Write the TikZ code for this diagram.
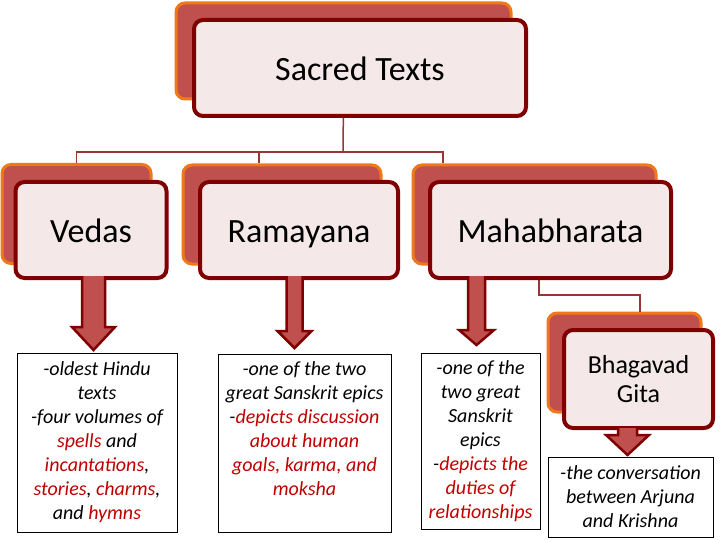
\documentclass[tikz,border=0pt]{standalone}
\usepackage{fontspec}
\setmainfont{Carlito}
\usetikzlibrary{positioning}

\definecolor{backfill}{HTML}{C0504D}
\definecolor{backline}{HTML}{F07818}
\definecolor{frontfill}{HTML}{F4E8E8}
\definecolor{frontline}{HTML}{7F0000}
\definecolor{linkcolor}{HTML}{953735}
\definecolor{notered}{HTML}{C00000}
\newcommand{\rd}[1]{\textcolor{notered}{#1}}

% block arrow: x, y top, y head, y tip, half shaft, half head
\newcommand{\blockarrow}[6]{%
\draw[downarrow] (#1-#5,#2)--(#1-#5,#3)--(#1-#6,#3)--(#1,#4)--(#1+#6,#3)--(#1+#5,#3)--(#1+#5,#2);
}

\tikzset{
  backbox/.style={draw=backline, fill=backfill, line width=3pt, rounded corners=9pt, inner sep=0pt},
  frontbox/.style={draw=frontline, fill=frontfill, line width=4pt, rounded corners=9pt,
    inner sep=0pt, align=center, font=\fontsize{34}{40}\selectfont},
  oneline/.style={text height=29pt, text depth=3pt},
  notebox/.style={draw=black, fill=white, line width=0.8pt, inner sep=0pt, align=center,
    font=\fontsize{20}{24}\selectfont\itshape},
  notetext/.style={inner sep=0pt, align=center, font=\fontsize{20}{24}\selectfont\itshape},
  link/.style={draw=linkcolor, line width=1.5pt},
  downarrow/.style={draw=frontline, fill=backfill, line width=2.5pt, line join=miter},
}

\begin{document}
\begin{tikzpicture}[x=1pt,y=-1pt]
\useasboundingbox (0,0) rectangle (720,540);

% back boxes
\node[backbox, minimum width=335pt, minimum height=96pt] (topback) at (343.5,51) {};
\node[backbox, minimum width=149pt, minimum height=99pt] (vedasback) at (76.5,214) {};
\node[backbox, minimum width=198pt, minimum height=99pt] (ramback) at (282,214.5) {};
\node[backbox, minimum width=243pt, minimum height=99pt] (mahaback) at (534.5,214.5) {};
\node[backbox, minimum width=153pt, minimum height=99pt] (gitaback) at (624.5,362.5) {};

% connectors
\coordinate (bar) at (343,152);
\coordinate (mgbend) at (539,295);
\draw[link] (topback.south) -- (bar);
\draw[link] (bar) -| (vedasback.north);
\draw[link] (bar) -| ([xshift=-23pt]ramback.north);
\draw[link] (bar) -| ([xshift=-91.5pt]mahaback.north);
\draw[link] (mahaback.south -| mgbend) -- (mgbend) -| ([xshift=15.5pt]gitaback.north);

% front boxes
\node[frontbox, oneline, minimum width=332pt, minimum height=96pt] (sacred) at (360,68) {Sacred Texts};
\node[frontbox, oneline, minimum width=151pt, minimum height=96pt] (vedas) at (91,230) {Vedas};
\node[frontbox, oneline, minimum width=198pt, minimum height=96pt] (ramayana) at (299,230) {Ramayana};
\node[frontbox, oneline, minimum width=241pt, minimum height=96pt] (mahabharata) at (550.5,230) {Mahabharata};
\node[frontbox, minimum width=149pt, minimum height=98pt,
  font=\fontsize{26}{29}\selectfont] (gita) at (638.5,379) {Bhagavad\\Gita};

% arrows
\blockarrow{93.5}{276}{327}{350}{11.5}{21.5}
\blockarrow{294.5}{276}{331}{348}{8}{17}
\blockarrow{476.5}{276}{330}{345}{8.5}{17.5}
\blockarrow{627.5}{428}{435}{455}{9.5}{21.5}

% notes
\node[notebox, minimum width=160pt, minimum height=179pt] (vedasnote) at (97,442.5)
  {-oldest Hindu\\texts\\-four volumes of\\\rd{spells} and\\\rd{incantations},\\\rd{stories}, \rd{charms},\\and \rd{hymns}};
\node[notebox, minimum width=173pt, minimum height=178pt] (ramnote) at (304.5,443) {};
\node[notetext, below=8pt of ramnote.north] (ramtext)
  {-one of the two\\great Sanskrit epics\\-\rd{depicts discussion}\\\rd{about human}\\\rd{goals, karma, and}\\\rd{moksha}};
\node[notebox, minimum width=119pt, minimum height=176pt] (mahanote) at (480.5,441)
  {-one of the\\two great\\Sanskrit\\epics\\-\rd{depicts the}\\\rd{duties of}\\\rd{relationships}};
\node[notebox, minimum width=165pt, minimum height=80pt] (gitanote) at (630.5,497)
  {-the conversation\\between Arjuna\\and Krishna};
\end{tikzpicture}
\end{document}
